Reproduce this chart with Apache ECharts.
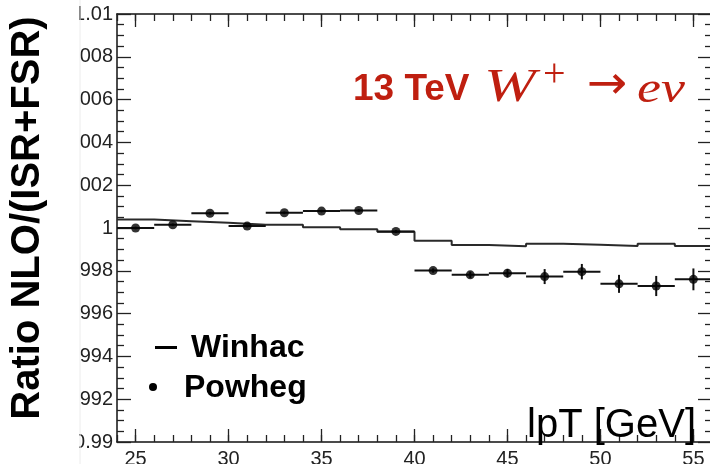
<!DOCTYPE html>
<html>
<head>
<meta charset="utf-8">
<script src="https://cdn.jsdelivr.net/npm/echarts@6/dist/echarts.min.js"></script>
<style>
  html, body { margin: 0; padding: 0; background: #fff; }
  #chart { width: 710px; height: 464px; }
</style>
</head>
<body>
<div id="chart"></div>
<script>
// Bin layout (lepton pT, GeV): 2 GeV wide bins from 24 to 56
const binLow = [24, 26, 28, 30, 32, 34, 36, 38, 40, 42, 44, 46, 48, 50, 52, 54];
const binHigh = 56;
const binCenter = [25, 27, 29, 31, 33, 35, 37, 39, 41, 43, 45, 47, 49, 51, 53, 55];

// Winhac ratio NLO/(ISR+FSR), drawn as a histogram
const winhac = [1.00040, 1.00032, 1.00024, 1.00015, 1.00015, 1.00004, 0.99994, 0.99982,
                0.99941, 0.99921, 0.99915, 0.99926, 0.99922, 0.99916, 0.99926, 0.99916];

// Powheg ratio with statistical errors
const powheg = [1.00000, 1.00015, 1.00069, 1.00009, 1.00071, 1.00079, 1.00082, 0.99984,
                0.99801, 0.99781, 0.99789, 0.99773, 0.99796, 0.99739, 0.99729, 0.99760];
const powhegErr = [0.00006, 0.00006, 0.00006, 0.00006, 0.00006, 0.00006, 0.00006, 0.00007,
                   0.00010, 0.00015, 0.00020, 0.00035, 0.00036, 0.00042, 0.00047, 0.00051];

// Tick labels
const xMajorTicks = [25, 30, 35, 40, 45, 50, 55];
const yMin = 0.99, yMax = 1.01, yStep = 0.002;

const SANS = '"Liberation Sans", Arial, Helvetica, sans-serif';
const SERIF = '"Liberation Serif", "DejaVu Serif", "Times New Roman", serif';
const RED = '#bf1f10';

const stepData = binLow.map((x, i) => [x, winhac[i]]);
stepData.push([binHigh, winhac[winhac.length - 1]]);

const pointData = binCenter.map((x, i) => [x, powheg[i], powhegErr[i]]);

const chart = echarts.init(document.getElementById('chart'), null, { renderer: 'canvas' });

const axisLineStyle = { color: '#111', width: 1.5 };
const tickStyle = { color: '#222', width: 1.3 };

const xBase = {
  type: 'value', min: 24, max: 56, gridIndex: 0,
  splitLine: { show: false },
};

chart.setOption({
  animation: false,
  backgroundColor: '#fff',
  grid: { left: 117, top: 14, width: 595, height: 428, containLabel: false, outerBoundsMode: 'none' },
  xAxis: [
    Object.assign({}, xBase, {
      position: 'bottom',
      axisLine: { show: true, onZero: false, lineStyle: axisLineStyle },
      axisTick: { show: true, inside: true, length: 13, customValues: xMajorTicks, lineStyle: tickStyle },
      axisLabel: { show: true, customValues: xMajorTicks, margin: 7, fontSize: 20, color: '#222', fontFamily: SANS },
    }),
    Object.assign({}, xBase, {
      position: 'bottom', interval: 1,
      axisLine: { show: false },
      axisTick: { show: true, inside: true, length: 7, lineStyle: tickStyle },
      axisLabel: { show: false },
    }),
    Object.assign({}, xBase, {
      position: 'top',
      axisLine: { show: true, onZero: false, lineStyle: axisLineStyle },
      axisTick: { show: true, inside: true, length: 13, customValues: xMajorTicks, lineStyle: tickStyle },
      axisLabel: { show: false },
    }),
    Object.assign({}, xBase, {
      position: 'top', interval: 1,
      axisLine: { show: false },
      axisTick: { show: true, inside: true, length: 7, lineStyle: tickStyle },
      axisLabel: { show: false },
    }),
  ],
  yAxis: [
    {
      type: 'value', min: yMin, max: yMax, interval: yStep, position: 'left',
      splitLine: { show: false },
      axisLine: { show: true, onZero: false, lineStyle: axisLineStyle },
      axisTick: { show: true, inside: true, length: 14, lineStyle: tickStyle },
      minorTick: { show: true, splitNumber: 4, length: 7, lineStyle: tickStyle },
      axisLabel: {
        margin: 4, fontSize: 20, color: '#222', fontFamily: SANS,
        formatter: v => String(+v.toFixed(3)),
      },
    },
    {
      type: 'value', min: yMin, max: yMax, interval: yStep, position: 'right',
      splitLine: { show: false },
      axisLine: { show: true, onZero: false, lineStyle: axisLineStyle },
      axisTick: { show: true, inside: true, length: 14, lineStyle: tickStyle },
      minorTick: { show: true, splitNumber: 4, length: 7, lineStyle: tickStyle },
      axisLabel: { show: false },
    },
  ],
  series: [
    {
      name: 'Winhac', type: 'line', step: 'end',
      xAxisIndex: 0, yAxisIndex: 0,
      data: stepData, showSymbol: false, symbol: 'none',
      lineStyle: { color: '#2a2a2a', width: 2 },
      z: 3,
    },
    {
      name: 'Powheg errors', type: 'custom',
      xAxisIndex: 0, yAxisIndex: 0,
      data: pointData,
      renderItem: (params, api) => {
        const x = api.value(0), y = api.value(1), e = api.value(2);
        const l = api.coord([x - 1, y]);
        const r = api.coord([x + 1, y]);
        const lo = api.coord([x, y - e]);
        const hi = api.coord([x, y + e]);
        const st = { stroke: '#111', lineWidth: 2 };
        return {
          type: 'group',
          children: [
            { type: 'line', shape: { x1: l[0], y1: l[1], x2: r[0], y2: r[1] }, style: st },
            { type: 'line', shape: { x1: lo[0], y1: lo[1], x2: hi[0], y2: hi[1] }, style: st },
          ],
        };
      },
      z: 4,
    },
    {
      name: 'Powheg', type: 'scatter',
      xAxisIndex: 0, yAxisIndex: 0,
      data: pointData.map(d => [d[0], d[1]]),
      symbol: 'circle', symbolSize: 9,
      itemStyle: { color: '#000' },
      z: 5,
    },
  ],
  graphic: [
    // left margin panel behind the axis title
    { type: 'rect', shape: { x: 0, y: 0, width: 79, height: 464 }, style: { fill: '#fff' }, z: 100 },
    { type: 'line', shape: { x1: 80, y1: 0, x2: 80, y2: 464 }, style: { stroke: '#ececec', lineWidth: 1 }, z: 100 },
    {
      type: 'text', x: 28, y: 218, rotation: Math.PI / 2, z: 101,
      style: { text: 'Ratio NLO/(ISR+FSR)', font: 'bold 40px ' + SANS, fill: '#000', align: 'center', verticalAlign: 'middle' },
    },
    // process label
    { type: 'text', x: 353, y: 108, z: 101, style: { text: '13 TeV', font: 'bold 37px ' + SANS, fill: RED, align: 'left', verticalAlign: 'bottom' } },
    { type: 'text', x: 484, y: 112, scaleX: 1.35, z: 101, style: { text: 'W', font: 'italic 46px ' + SERIF, fill: RED, align: 'left', verticalAlign: 'bottom' } },
    { type: 'text', x: 543, y: 75, z: 101, style: { text: '+', font: '40px ' + SERIF, fill: RED, align: 'left', verticalAlign: 'middle' } },
    { type: 'text', x: 587, y: 86, scaleX: 1.05, z: 101, style: { text: '\u2192', font: '46px "DejaVu Sans", ' + SERIF, fill: RED, align: 'left', verticalAlign: 'middle' } },
    { type: 'text', x: 637, y: 113, scaleX: 1.2, z: 101, style: { text: 'e\u03BD', font: 'italic 45px ' + SERIF, fill: RED, align: 'left', verticalAlign: 'bottom' } },
    // legend
    { type: 'rect', shape: { x: 155, y: 346, width: 22, height: 3 }, style: { fill: '#000' }, z: 101 },
    { type: 'text', x: 191, y: 364, z: 101, style: { text: 'Winhac', font: 'bold 32px ' + SANS, fill: '#000', align: 'left', verticalAlign: 'bottom' } },
    { type: 'circle', shape: { cx: 153, cy: 387, r: 4 }, style: { fill: '#000' }, z: 101 },
    { type: 'text', x: 184, y: 404, z: 101, style: { text: 'Powheg', font: 'bold 32px ' + SANS, fill: '#000', align: 'left', verticalAlign: 'bottom' } },
    // x-axis title
    { type: 'text', x: 696, y: 446, z: 101, style: { text: 'lpT [GeV]', font: '40px ' + SANS, fill: '#000', align: 'right', verticalAlign: 'bottom' } },
  ],
});
</script>
</body>
</html>
